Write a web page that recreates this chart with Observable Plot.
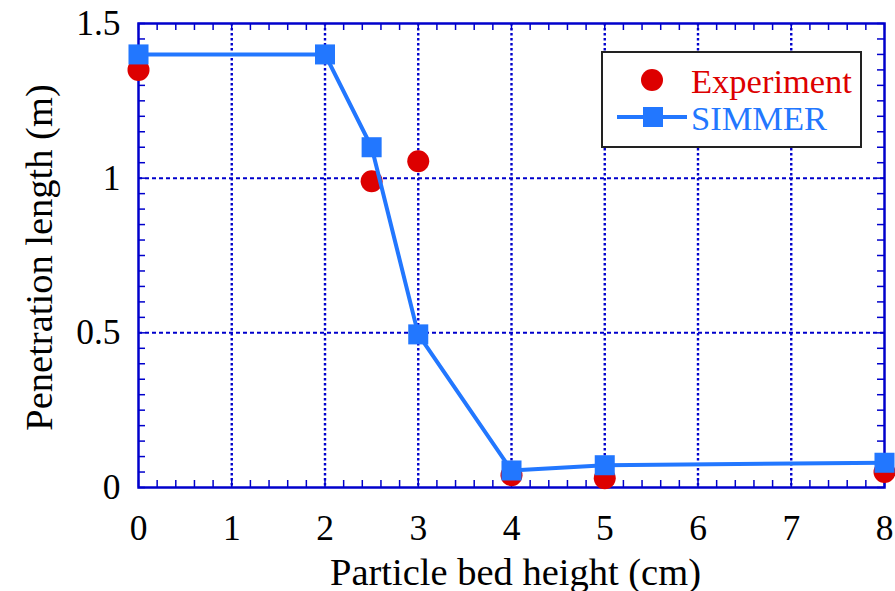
<!DOCTYPE html>
<html><head><meta charset="utf-8">
<script src="https://cdn.jsdelivr.net/npm/d3@7"></script>
<script src="https://cdn.jsdelivr.net/npm/@observablehq/plot@0.6"></script>
<style>
body{margin:0;background:#fff}
#wrap{position:relative;width:895px;height:591px}
#legend{position:absolute;left:601px;top:51px;width:257px;height:93px;border:2px solid #222;background:#fff}
</style>
</head><body><div id="wrap"></div>
<script>
const expX = [0, 2.5, 3, 4, 5, 8];
const expY = [1.35, 0.99, 1.055, 0.04, 0.03, 0.05];
const simX = [0, 2, 2.5, 3, 4, 5, 8];
const simY = [1.40, 1.40, 1.10, 0.495, 0.055, 0.072, 0.08];
const xTicks = [0, 1, 2, 3, 4, 5, 6, 7, 8];
const yTicks = [0, 0.5, 1, 1.5];
const xMinor = d3.range(0, 41).map(i => i * 0.2);
const yMinor = d3.range(0, 31).map(i => i * 0.05);
const seriesNames = ["Experiment", "SIMMER"];
const xTitle = "Particle bed height (cm)";
const yTitle = "Penetration length (m)";

const expData = expX.map((x, i) => ({x, y: expY[i]}));
const simData = simX.map((x, i) => ({x, y: simY[i]}));

const W = 895, H = 591, mL = 138, mR = 11, mT = 23, mB = 104;
const pw = W - mL - mR, ph = H - mT - mB;
const axisBlue = "#0000cc", red = "#dd0000", blue = "#2277ff";

const plot = Plot.plot({
  width: W, height: H,
  marginLeft: mL, marginRight: mR, marginTop: mT, marginBottom: mB,
  style: {fontFamily: "Liberation Serif, serif", fontSize: "35.5px", color: "black", background: "white"},
  x: {domain: [0, 8]},
  y: {domain: [0, 1.5]},
  marks: [
    Plot.ruleX(xTicks.slice(1, -1), {stroke: axisBlue, strokeWidth: 2.4, strokeDasharray: "2.5,2.5"}),
    Plot.ruleY(yTicks.slice(1, -1), {stroke: axisBlue, strokeWidth: 2, strokeDasharray: "4,3"}),
    Plot.ruleX(xMinor, {stroke: axisBlue, strokeWidth: 1.5, insetTop: ph - 7}),
    Plot.ruleX(xMinor, {stroke: axisBlue, strokeWidth: 1.5, insetBottom: ph - 7}),
    Plot.ruleY(yMinor, {stroke: axisBlue, strokeWidth: 1.5, insetRight: pw - 7}),
    Plot.ruleY(yMinor, {stroke: axisBlue, strokeWidth: 1.5, insetLeft: pw - 7}),
    Plot.frame({stroke: axisBlue, strokeWidth: 2.5}),
    Plot.dot(expData, {x: "x", y: "y", r: 11, fill: red, symbol: "circle"}),
    Plot.line(simData, {x: "x", y: "y", stroke: blue, strokeWidth: 4}),
    Plot.dot(simData, {x: "x", y: "y", r: 11.3, fill: blue, symbol: "square"}),
    Plot.axisX({ticks: xTicks, tickSize: 0, tickPadding: 27, tickFormat: d => String(d), label: null}),
    Plot.axisY({ticks: yTicks, tickSize: 0, tickPadding: 18, tickFormat: d => String(d), label: null}),
    Plot.text([xTitle], {text: d => d, frameAnchor: "bottom", dy: 97, lineAnchor: "bottom", fontSize: 38.5, dx: 4}),
    Plot.text([yTitle], {text: d => d, frameAnchor: "left", textAnchor: "middle", dx: -99, dy: 2, rotate: -90, fontSize: 38.5})
  ]
});
const wrap = document.getElementById("wrap");
wrap.appendChild(plot);

const leg = document.createElement("div");
leg.id = "legend";
leg.innerHTML = `
<svg width="257" height="93" style="position:absolute;left:0;top:0">
  <circle cx="49" cy="27" r="11" fill="${red}"/>
  <line x1="14" x2="84" y1="64" y2="64" stroke="${blue}" stroke-width="4"/>
  <rect x="40" y="54" width="20" height="20" fill="${blue}"/>
  <text x="88" y="40" fill="${red}" font-family="Liberation Serif, serif" font-size="34.5">${seriesNames[0]}</text>
  <text x="88" y="77" fill="${blue}" font-family="Liberation Serif, serif" font-size="34.5">${seriesNames[1]}</text>
</svg>`;
wrap.appendChild(leg);
</script>
</body></html>
